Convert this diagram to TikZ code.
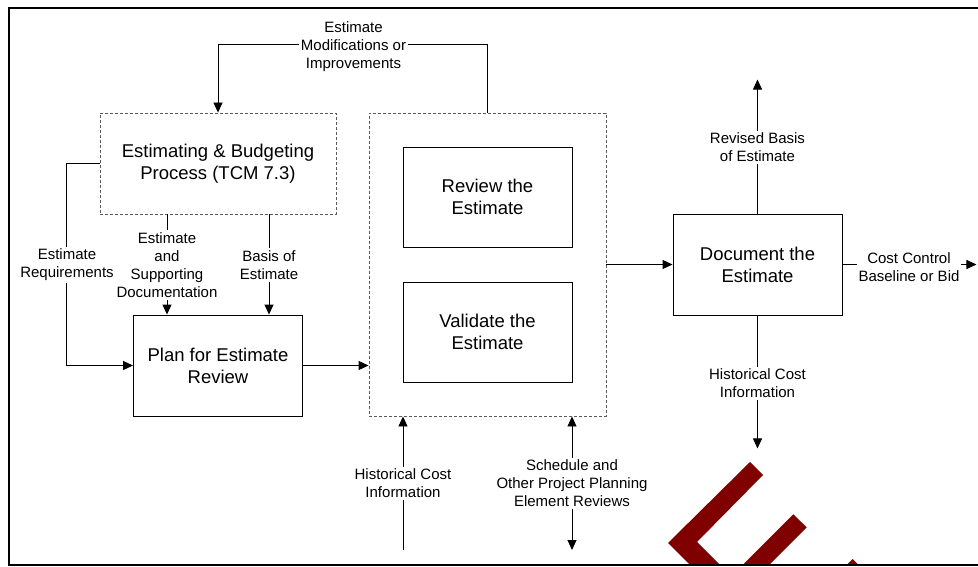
\documentclass[tikz,border=0pt]{standalone}
\usepackage{fontspec}
\setmainfont{Liberation Sans}
\usetikzlibrary{arrows.meta}
\definecolor{wm}{RGB}{128,0,0}
\definecolor{dashgray}{RGB}{90,90,90}
\begin{document}
\begin{tikzpicture}[x=1pt,y=-1pt,
  boxfont/.style={font=\fontsize{18.5}{22}\selectfont},
  sbox/.style={draw=black, line width=0.9pt, minimum width=169pt, minimum height=101pt, inner sep=0pt, align=center, boxfont},
  dbox/.style={draw=dashgray, line width=0.9pt, dash pattern=on 3pt off 2pt, inner sep=0pt, align=center, boxfont},
  lbl/.style={fill=white, inner sep=2pt, align=center, font=\fontsize{15}{18}\selectfont},
  arr/.style={line width=0.9pt, -{Triangle[length=10pt,width=9pt]}},
  darr/.style={line width=0.9pt, {Triangle[length=10pt,width=9pt]}-{Triangle[length=10pt,width=9pt]}},
  framestyle/.style={line width=1.4pt}]
\useasboundingbox (0,0) rectangle (978,567);

% watermark fragments
\fill[wm] (763,475) -- (750,462) -- (668,543) -- (690,565) -- (720,565) -- (697,542) -- cycle;
\fill[wm] (793.3,514.3) -- (806.7,527.3) -- (769,565) -- (742.6,565) -- cycle;
\fill[wm] (852.7,559) -- (858.7,565) -- (846.7,565) -- cycle;

% frame
\draw[framestyle] (990,8) -- (9,8) -- (9,565) -- (990,565);

% boxes
\node[dbox, minimum width=236pt, minimum height=101pt] (est) at (218,163.5) {Estimating \& Budgeting\\Process (TCM 7.3)};
\node[sbox] (plan) at (218,365.5) {Plan for Estimate\\Review};
\node[dbox, minimum width=237pt, minimum height=303pt] (grp) at (487.5,264.5) {};
\node[sbox, minimum height=100pt] (rev) at (487.5,197) {Review the\\Estimate};
\node[sbox, minimum height=100pt] (val) at (487.5,332) {Validate the\\Estimate};
\node[sbox] (doc) at (757.5,264.5) {Document the\\Estimate};

\coordinate (hb) at (403,550);
\coordinate (sb) at (572,550);

% connectors
\draw[arr] (grp.north) -- ++(0,-68) -| (est.north);
\draw[arr] (est.west) -- ++(-33,0) |- (plan.west);
\draw[arr] ([xshift=-51pt]est.south) -- ([xshift=-51pt]plan.north);
\draw[arr] ([xshift=51pt]est.south) -- ([xshift=51pt]plan.north);
\draw[arr] (plan.east) -- (plan.east -| grp.west);
\draw[arr] (grp.east) -- (doc.west);
\draw[arr] (doc.north) -- ++(0,-134);
\draw[arr] (doc.south) -- ++(0,133);
\draw[arr] (doc.east) -- ++(134,0);
\draw[arr] (hb) -- (hb |- grp.south);
\draw[darr] (sb |- grp.south) -- (sb);

% labels
\node[lbl] (lmod) at (353.5,46.5) {Estimate\\Modifications or\\Improvements};
\node[lbl] (lreq) at (67,265) {Estimate\\Requirements};
\node[lbl] (lsup) at (167,265) {Estimate\\and\\Supporting\\Documentation};
\node[lbl] (lboe) at (269,265) {Basis of\\Estimate};
\node[lbl] (lrev) at (757.5,147.5) {Revised Basis\\of Estimate};
\node[lbl] (lhist) at (757.5,383.5) {Historical Cost\\Information};
\node[lbl] (lcc) at (909,267) {Cost Control\\Baseline or Bid};
\node[lbl] (lhist2) at (403,483.5) {Historical Cost\\Information};
\node[lbl] (lsch) at (572,483.5) {Schedule and\\Other Project Planning\\Element Reviews};
\end{tikzpicture}
\end{document}
